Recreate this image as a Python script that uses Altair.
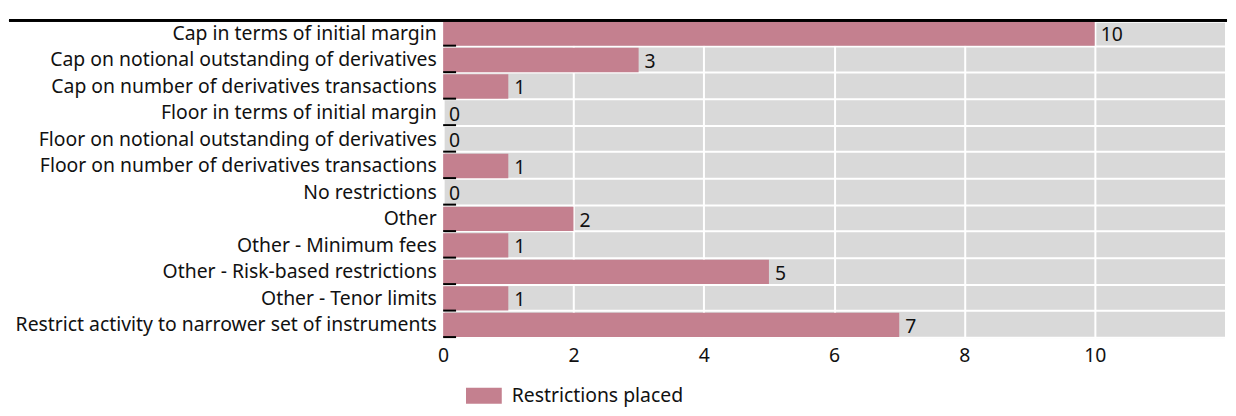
import altair as alt
import pandas as pd

categories = [
    "Cap in terms of initial margin",
    "Cap on notional outstanding of derivatives",
    "Cap on number of derivatives transactions",
    "Floor in terms of initial margin",
    "Floor on notional outstanding of derivatives",
    "Floor on number of derivatives transactions",
    "No restrictions",
    "Other",
    "Other - Minimum fees",
    "Other - Risk-based restrictions",
    "Other - Tenor limits",
    "Restrict activity to narrower set of instruments",
]
values = [10, 3, 1, 0, 0, 1, 0, 2, 1, 5, 1, 7]
series = "Restrictions placed"
x_ticks = [0, 2, 4, 6, 8, 10]

df = pd.DataFrame({"category": categories, "value": values, "series": series})

FONT = "Noto Sans"
FS = 19.5
BAR = "#c4808f"
TXT = "#111111"
H = 320
W = 787

yenc = alt.Y("category:N", sort=categories, title=None,
             scale=alt.Scale(paddingInner=0.08, paddingOuter=0.04),
             axis=alt.Axis(grid=True, gridColor="white", gridWidth=2, tickBand="extent",
                           ticks=False, domain=False, labelFontSize=FS, labelFont=FONT,
                           labelColor=TXT, labelPadding=7, labelLimit=700))
xscale = alt.Scale(domain=[0, 12], nice=False)

bars = alt.Chart(df).mark_bar(opacity=1).encode(
    x=alt.X("value:Q", scale=xscale, title=None,
            axis=alt.Axis(values=x_ticks, format="d", grid=True, gridColor="white", gridWidth=2,
                          ticks=False, domain=False, labelFontSize=FS, labelFont=FONT,
                          labelColor=TXT, labelPadding=9, labelFlush=False)),
    y=yenc,
    color=alt.Color("series:N", title=None,
                    scale=alt.Scale(domain=[series], range=[BAR]),
                    legend=alt.Legend(orient="none", legendX=23, legendY=H + 40,
                                      symbolType="M-1,-0.45H1V0.45H-1Z", symbolSize=1296,
                                      symbolStrokeWidth=0, symbolOpacity=1,
                                      labelFontSize=FS, labelFont=FONT, labelLimit=400,
                                      labelColor=TXT, labelOffset=10)),
)

labels = alt.Chart(df).mark_text(align="left", baseline="middle", dx=6, dy=2,
                                 fontSize=FS, font=FONT, color=TXT).encode(
    x=alt.X("value:Q", scale=xscale),
    y=alt.Y("category:N", sort=categories),
    text=alt.Text("value:Q"),
)

marks = alt.Chart(df).mark_rule(color="black", strokeWidth=2).encode(
    x=alt.value(0), x2=alt.value(13),
    y=alt.Y("category:N", sort=categories, bandPosition=1),
)

topline = alt.Chart(df).mark_rule(color="black", strokeWidth=2).encode(
    x=alt.value(-437), x2=alt.value(W + 2), y=alt.value(0),
)

chart = alt.layer(bars, labels, marks, topline).properties(
    width=W, height=H,
    padding={"left": 0, "top": 1, "right": 0, "bottom": 0},
).configure_view(fill="#d9d9d9", stroke=None)

chart.save("out.html", embed_options={"renderer": "svg", "actions": False})
